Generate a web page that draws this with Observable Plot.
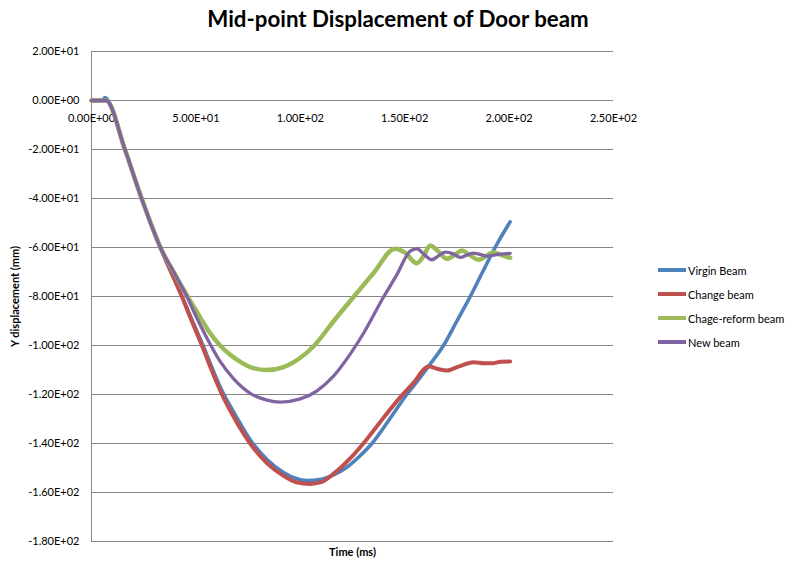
<!DOCTYPE html>
<html>
<head>
<meta charset="utf-8">
<script src="https://cdn.jsdelivr.net/npm/d3@7"></script>
<script src="https://cdn.jsdelivr.net/npm/@observablehq/plot@0.6"></script>
<style>
  body { margin: 0; background: #fff; font-family: Lato, "Open Sans", sans-serif; }
  #wrap { position: relative; width: 802px; height: 569px; }
  #title { height: 40px; box-sizing: border-box; padding-top: 8px; line-height: 22px; font-size: 22.3px; font-weight: bold; text-align: center; color: #000; padding-right: 6px; }
  #legend { position: absolute; left: 658px; top: 258px; font-size: 11px; color: #000; }
  .item { height: 24px; display: flex; align-items: center; }
  .sw { width: 28px; height: 4px; margin-right: 2px; }
  g[aria-label="y-axis label"] text { font-weight: bold; font-size: 11px; }
</style>
</head>
<body>
<div id="wrap">
  <div id="title">Mid-point Displacement of Door beam</div>
  <div id="chart"></div>
  <div id="legend"></div>
</div>
<script>
// ---- data ----
const seriesNames = ["Virgin Beam", "Change beam", "Chage-reform beam", "New beam"];
const seriesColors = ["#4F81BD", "#C0504D", "#9BBB59", "#8064A2"];

const virginT = [0, 5, 6.5, 8, 16, 24, 33, 43.3, 52.9, 62.5, 69, 76, 84, 92, 98, 103, 110, 116, 122.3, 128, 134.3, 142, 151, 157, 162, 168.6, 175, 181.4, 187, 193.3, 200.5];
const virginY = [0, 0, 1.2, 0, -20, -40, -60, -80, -99, -118.5, -128.5, -138.5, -146.5, -151.8, -154.3, -155.1, -154.6, -152.8, -149.7, -145.5, -140, -131, -120, -113.5, -107.8, -100, -90, -80, -70.5, -60, -49.5];

const changeT = [0, 7, 16, 24, 33, 43.3, 48, 52.9, 57.5, 62.5, 69, 76, 84, 92, 98, 104.7, 110, 116, 124, 130.2, 138, 146, 154, 161.5, 166, 170.2, 176, 183, 188, 192.5, 196, 200.5];
const changeY = [0, 0, -20, -40, -60, -80, -90, -100, -110, -120, -130.5, -140, -148, -153.2, -155.8, -156.5, -155.8, -152.3, -146, -140, -131.5, -123, -115.5, -108.6, -109.6, -110.2, -108.5, -106.8, -107.2, -107.2, -106.6, -106.5];

const reformT = [0, 7, 16, 24, 33, 40, 46, 52, 56, 61.6, 66, 70, 76, 84, 92, 100, 106.4, 116, 125.4, 135, 145.4, 150, 155.8, 159, 162.2, 166, 170.2, 174, 177.4, 181, 185.4, 189, 192.5, 196, 200.5];
const reformY = [0, 0, -20, -40, -60, -71, -80, -88.4, -94, -100, -103.5, -106, -108.8, -110, -108.8, -105, -100.3, -90, -80.3, -70.5, -60.5, -62, -66.4, -63.5, -59.2, -61.5, -64.6, -63, -61.2, -63, -65, -63.5, -61.9, -63, -64.2];

const newT = [0, 7, 16, 24, 33, 40, 45.7, 50, 55, 61.6, 68, 76, 84, 90.4, 100, 108, 115.9, 123.9, 130.3, 139.8, 146, 152.6, 155.8, 159.5, 163, 166, 169.4, 173, 176.6, 180, 183, 186, 189.4, 195, 200.5];
const newY = [0, 0, -20, -40, -60, -71, -80, -88, -96.5, -106.5, -113.5, -119.5, -122.3, -123.1, -121.8, -118.5, -112.5, -103.5, -95, -80.3, -71.5, -61.5, -60.5, -63, -65, -63.5, -61.9, -62.5, -64, -63, -62.3, -62.8, -63.5, -62.8, -62.4];

const xTicks = [0, 50, 100, 150, 200, 250];
const yTicks = [20, 0, -20, -40, -60, -80, -100, -120, -140, -160, -180];

// ---- build table ----
const allT = [virginT, changeT, reformT, newT];
const allY = [virginY, changeY, reformY, newY];
const rows = allT.flatMap((ts, i) => ts.map((t, j) => ({ series: seriesNames[i], t, v: allY[i][j] })));

function fmtE(d) {
  const [m, e] = d.toExponential(2).split("e");
  const n = +e;
  return m + "E" + (n < 0 ? "-" : "+") + String(Math.abs(n)).padStart(2, "0");
}

const widths = { "Virgin Beam": 3.6, "Change beam": 4, "Chage-reform beam": 4.5, "New beam": 3.3 };

const chart = Plot.plot({
  width: 802,
  height: 529,
  marginLeft: 91,
  marginRight: 189,
  marginTop: 11,
  marginBottom: 28,
  style: { fontFamily: "Lato, 'Open Sans', sans-serif", fontSize: "11px", color: "#000", background: "#fff" },
  x: { domain: [0, 250], axis: null },
  y: { domain: [-180, 20] },
  color: { domain: seriesNames, range: seriesColors },
  marks: [
    Plot.gridY(yTicks, { stroke: "#868686", strokeOpacity: 1, strokeWidth: 1 }),
    Plot.ruleX([0], { y1: -180, y2: 20, stroke: "#868686", strokeWidth: 1 }),
    Plot.axisY(yTicks, {
      tickSize: 0, tickPadding: 12, tickFormat: fmtE,
      label: "Y displacement (mm)", labelAnchor: "center", labelArrow: "none", labelOffset: 80
    }),
    Plot.text(xTicks, { x: d => d, y: () => 0, text: d => fmtE(d), dy: 18, fill: "#000" }),
    ...seriesNames.map((s, i) => Plot.line(rows.filter(r => r.series === s), {
      x: "t", y: "v", stroke: seriesColors[i], strokeWidth: widths[s], curve: "monotone-x"
    })),
    Plot.text(["Time (ms)"], { frameAnchor: "bottom", dy: 14, fontWeight: "bold", fontSize: 11, fill: "#000" })
  ]
});
document.getElementById("chart").appendChild(chart);

// legend
const lg = document.getElementById("legend");
seriesNames.forEach((s, i) => {
  const it = document.createElement("div");
  it.className = "item";
  const sw = document.createElement("div");
  sw.className = "sw";
  sw.style.background = seriesColors[i];
  const tx = document.createElement("span");
  tx.textContent = s;
  it.appendChild(sw); it.appendChild(tx);
  lg.appendChild(it);
});
</script>
</body>
</html>
